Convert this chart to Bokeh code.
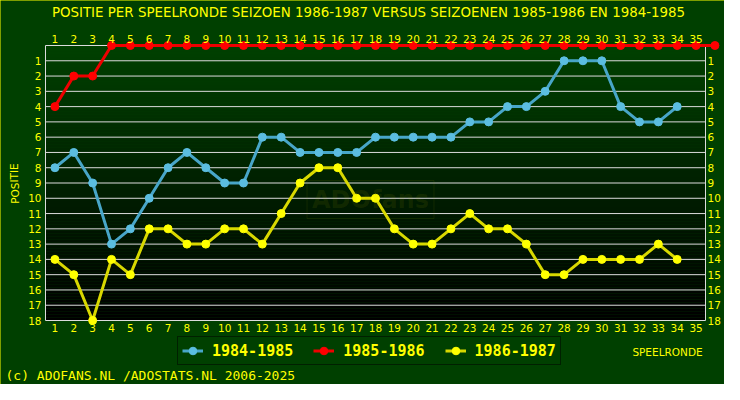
from bokeh.plotting import figure
from bokeh.models import Range1d, LinearAxis, FixedTicker, Label, Legend, LegendItem
from bokeh.embed import file_html
from bokeh.resources import INLINE

# ---------------- data ----------------
rounds_8485 = [1, 2, 3, 4, 5, 6, 7, 8, 9, 10, 11, 12, 13, 14, 15, 16, 17, 18, 19, 20,
               21, 22, 23, 24, 25, 26, 27, 28, 29, 30, 31, 32, 33, 34]
pos_8485 = [8, 7, 9, 13, 12, 10, 8, 7, 8, 9, 9, 6, 6, 7, 7, 7, 7, 6, 6, 6,
            6, 6, 5, 5, 4, 4, 3, 1, 1, 1, 4, 5, 5, 4]

rounds_8586 = [1, 2, 3, 4, 5, 6, 7, 8, 9, 10, 11, 12, 13, 14, 15, 16, 17, 18, 19, 20,
               21, 22, 23, 24, 25, 26, 27, 28, 29, 30, 31, 32, 33, 34, 35, 36]
pos_8586 = [4, 2, 2, 0, 0, 0, 0, 0, 0, 0, 0, 0, 0, 0, 0, 0, 0, 0, 0, 0,
            0, 0, 0, 0, 0, 0, 0, 0, 0, 0, 0, 0, 0, 0, 0, 0]

rounds_8687 = [1, 2, 3, 4, 5, 6, 7, 8, 9, 10, 11, 12, 13, 14, 15, 16, 17, 18, 19, 20,
               21, 22, 23, 24, 25, 26, 27, 28, 29, 30, 31, 32, 33, 34]
pos_8687 = [14, 15, 18, 14, 15, 12, 12, 13, 13, 12, 12, 13, 11, 9, 8, 8, 10, 10, 12, 13,
            13, 12, 11, 12, 12, 13, 15, 15, 14, 14, 14, 14, 13, 14]

x_ticks = [1, 2, 3, 4, 5, 6, 7, 8, 9, 10, 11, 12, 13, 14, 15, 16, 17, 18, 19, 20,
           21, 22, 23, 24, 25, 26, 27, 28, 29, 30, 31, 32, 33, 34, 35]
y_ticks = [1, 2, 3, 4, 5, 6, 7, 8, 9, 10, 11, 12, 13, 14, 15, 16, 17, 18]
grid_levels = [1, 2, 3, 4, 5, 6, 7, 8, 9, 10, 11, 12, 13, 14, 15, 16, 17]

labels = ["1984-1985", "1985-1986", "1986-1987"]
title_text = "POSITIE PER SPEELRONDE SEIZOEN 1986-1987 VERSUS SEIZOENEN 1985-1986 EN 1984-1985"
footer_text = "(c) ADOFANS.NL /ADOSTATS.NL 2006-2025"

# ---------------- style / layout ----------------
BG = "#004000"
YELLOW = "#ffff00"
GRID = "#dcdcdc"
W, H = 724, 384
X_LO, X_HI = 0.5, 35.5          # chart area (data units)
Y_LO, Y_HI = 0, 18
# whole canvas is the frame; chart area placed at px 45..705 x 45..320
PX_X = 660 / 35.0
PX_Y = 275 / 18.0
x_start = X_LO - 45 / PX_X
x_end = X_LO + (W - 45) / PX_X
y_top = Y_LO - 45 / PX_Y
y_bot = Y_LO + (H - 45) / PX_Y

p = figure(width=W, height=H, output_backend="svg", toolbar_location=None,
           x_range=Range1d(x_start, x_end), y_range=Range1d(y_bot, y_top),
           x_axis_location=None, y_axis_location=None, title_location=None,
           min_border=0, background_fill_color=BG, border_fill_color=BG,
           outline_line_color=None)
p.styles = {"outline": "1px solid #ffff00", "outline-offset": "-1px"}
p.grid.visible = False


def make_axis(ticks, standoff, loc):
    ax = LinearAxis(fixed_location=loc)
    ax.ticker = FixedTicker(ticks=ticks)
    ax.axis_line_color = None
    ax.major_tick_line_color = None
    ax.minor_tick_line_color = None
    ax.major_tick_in = 0
    ax.major_tick_out = 0
    ax.major_label_text_color = YELLOW
    ax.major_label_text_font = "DejaVu Sans"
    ax.major_label_text_font_size = "10.5px"
    ax.major_label_standoff = standoff
    return ax


p.add_layout(make_axis(x_ticks, 3, Y_HI), "below")
p.add_layout(make_axis(x_ticks, 3, Y_LO), "above")
p.add_layout(make_axis(y_ticks, 4, X_LO), "left")
p.add_layout(make_axis(y_ticks, 2, X_HI), "right")

# gradient background of the chart area
N = 92
step = (Y_HI - Y_LO) / N
tops, bottoms, cols = [], [], []
for i in range(N):
    t = i / (N - 1)
    g = int(round(64 * (1 - t)))
    tops.append(Y_LO + i * step)
    bottoms.append(Y_LO + (i + 1) * step)
    cols.append("#00%02x00" % g)
p.quad(left=X_LO, right=X_HI, top=tops, bottom=bottoms, fill_color=cols, line_color=None)

# grid + border
p.segment(x0=X_LO, x1=X_HI, y0=grid_levels, y1=grid_levels, line_color=GRID, line_width=1)
p.quad(left=[X_LO], right=[X_HI], top=[Y_LO], bottom=[Y_HI], fill_color=None,
       line_color=GRID, line_width=1)

# watermark
p.add_layout(Label(x=370, y=H - 199, x_units="screen", y_units="screen", text="ADOfans",
                   text_align="center", text_baseline="middle", text_font="DejaVu Sans",
                   text_font_style="bold", text_font_size="24px", text_color="#b0b000",
                   text_alpha=0.1, border_line_color="#b0b000", border_line_alpha=0.1,
                   padding=5))

# series
l1 = p.line(rounds_8485, pos_8485, line_color="#48a6c8", line_width=3)
s1 = p.scatter(rounds_8485, pos_8485, marker="circle", size=8, fill_color="#5bbde0",
               line_color="#5bbde0")
l2 = p.line(rounds_8586, pos_8586, line_color="#ee0000", line_width=3)
s2 = p.scatter(rounds_8586, pos_8586, marker="circle", size=8, fill_color="#ff0000",
               line_color="#ff0000")
l3 = p.line(rounds_8687, pos_8687, line_color="#d8d800", line_width=3)
s3 = p.scatter(rounds_8687, pos_8687, marker="circle", size=8, fill_color=YELLOW,
               line_color=YELLOW)

legend = Legend(items=[LegendItem(label=labels[0], renderers=[l1, s1]),
                       LegendItem(label=labels[1], renderers=[l2, s2]),
                       LegendItem(label=labels[2], renderers=[l3, s3])],
                orientation="horizontal", location=(177, H - 365),
                border_line_color="black", border_line_width=1,
                background_fill_color=BG, background_fill_alpha=1,
                label_text_font="DejaVu Sans Mono", label_text_font_style="bold",
                label_text_font_size="15px", label_text_color=YELLOW,
                glyph_width=21, glyph_height=19, label_height=19, label_standoff=9,
                spacing=20, padding=4, margin=0)
p.add_layout(legend)

# texts
p.add_layout(Label(x=368, y=H - 12, x_units="screen", y_units="screen", text=title_text,
                   text_align="center", text_baseline="middle", text_font="DejaVu Sans",
                   text_font_size="13.4px", text_color=YELLOW))
p.add_layout(Label(x=5, y=H - 375, x_units="screen", y_units="screen", text=footer_text,
                   text_align="left", text_baseline="middle", text_font="DejaVu Sans Mono",
                   text_font_size="13px", text_color=YELLOW))
p.add_layout(Label(x=667, y=H - 351, x_units="screen", y_units="screen", text="SPEELRONDE",
                   text_align="center", text_baseline="middle", text_font="DejaVu Sans",
                   text_font_size="10.5px", text_color=YELLOW))
p.add_layout(Label(x=14, y=H - 183, x_units="screen", y_units="screen", text="POSITIE",
                   angle=1.5708, text_align="center", text_baseline="middle",
                   text_font="DejaVu Sans", text_font_size="10.5px", text_color=YELLOW))

open("out.html", "w").write(file_html(p, INLINE))
